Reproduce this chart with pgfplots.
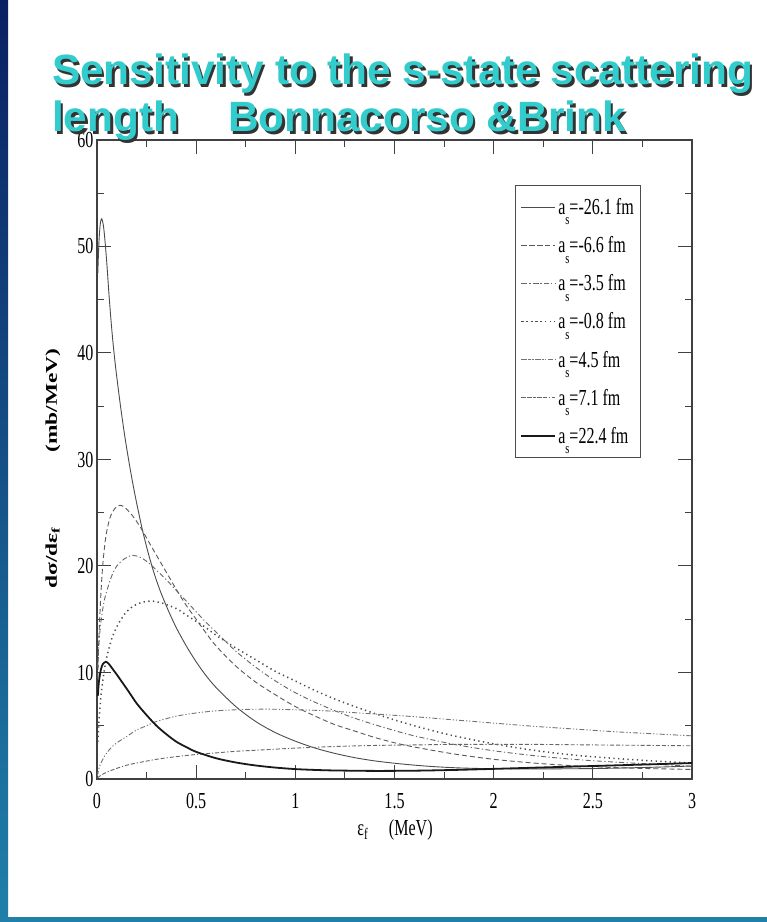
\documentclass[border=0pt]{standalone}
\usepackage{pgfplots}
\pgfplotsset{compat=1.18}
\usepackage{fontspec}
\setmainfont{Liberation Serif}
\newfontfamily\titlefont{Liberation Sans}
\definecolor{titlecyan}{RGB}{51,204,204}
\definecolor{stripnavy}{RGB}{10,32,98}
\definecolor{stripteal}{RGB}{32,128,170}
\definecolor{curvegray}{RGB}{75,75,75}
\newcommand{\sq}[1]{\scalebox{0.7}[1]{#1}}
\newcommand{\asub}[1]{\sq{a\raisebox{-0.45em}{\fontsize{15}{15}\selectfont s}=#1 fm}}
\begin{document}
\begin{tikzpicture}[x=1bp,y=1bp]
\path[use as bounding box] (0,0) rectangle (767,922);
\fill[white] (0,0) rectangle (767,922);
\shade[top color=stripnavy, bottom color=stripteal] (0,0) rectangle (8,922);
\fill[stripteal] (0,0) rectangle (767,5);
\begin{axis}[at={(97bp,143bp)}, anchor=south west, scale only axis,
  width=595bp, height=639bp,
  xmin=0, xmax=3, ymin=0, ymax=60,
  xtick={0,0.5,1,1.5,2,2.5,3}, ytick={0,10,20,30,40,50,60},
  minor x tick num=1, minor y tick num=1,
  major tick length=14bp, minor tick length=7bp,
  axis line style={draw=black!75, line width=1.2bp},
  tick style={draw=black!75, line width=1bp},
  /pgf/number format/assume math mode=true,
  tick label style={font=\fontsize{23}{23}\selectfont},
  xticklabel={\sq{\pgfmathprintnumber{\tick}}},
  yticklabel={\sq{\pgfmathprintnumber{\tick}}},
  xticklabel style={yshift=-11bp},
  xlabel={\sq{ε\textsubscript{f}\hspace{1.3em}(MeV)}},
  xlabel style={font=\fontsize{23}{23}\selectfont, at={(axis description cs:0.5008,-0.0798)}, anchor=center},
  ylabel={\scalebox{1}[0.7]{\bfseries dσ/dε\textsubscript{f}\hspace{3.2em}(mb/MeV)}},
  ylabel style={font=\fontsize{23.5}{23.5}\selectfont, at={(axis description cs:-0.074,0.486)}, anchor=center},
  legend image code/.code={\draw[#1] (0bp,0bp) -- (23bp,0bp); \path (-1bp,0bp) -- (33bp,0bp);},
  legend cell align=left,
  legend style={at={(0.7025,0.9296)}, anchor=north west, draw=black!70, line width=1bp,
    font=\fontsize{23}{23}\selectfont, inner xsep=5bp, inner ysep=11bp, row sep=16.5bp},
]
\addplot[curvegray, line width=0.9bp, smooth] coordinates {
(0.004,47.5) (0.01,50.5) (0.017,52.2) (0.024,52.6) (0.032,52.0) (0.04,50.6) (0.05,48.3)
(0.06,45.6) (0.07,43.2) (0.08,41.1) (0.09,39.3) (0.1,37.7) (0.12,34.8) (0.14,32.2)
(0.16,29.9) (0.18,27.8) (0.2,25.9) (0.23,23.3) (0.26,21.1) (0.29,19.2) (0.32,17.6)
(0.36,15.8) (0.4,14.2) (0.45,12.5) (0.5,11.0) (0.55,9.7) (0.6,8.6) (0.7,6.8) (0.8,5.4)
(0.9,4.35) (1.0,3.55) (1.1,2.9) (1.2,2.4) (1.3,2.0) (1.4,1.7) (1.5,1.48) (1.6,1.3)
(1.7,1.16) (1.8,1.06) (1.9,1.0) (2.0,0.97) (2.2,0.95) (2.5,0.98) (2.8,1.1) (3.0,1.22)};
\addlegendentry{\asub{-26.1}}
\addplot[black!65, line width=0.9bp, dash pattern=on 5bp off 3bp, smooth] coordinates {
(0.004,9.5) (0.01,13.5) (0.02,17.5) (0.03,20.3) (0.045,22.8) (0.065,24.5) (0.09,25.4)
(0.115,25.7) (0.14,25.5) (0.18,24.7) (0.22,23.6) (0.26,22.3) (0.3,21.0) (0.35,19.4)
(0.4,17.8) (0.45,16.3) (0.5,15.0) (0.55,13.7) (0.6,12.5) (0.7,10.6) (0.8,9.1) (0.9,7.9)
(1.0,6.8) (1.1,5.9) (1.2,5.1) (1.3,4.5) (1.4,3.9) (1.5,3.4) (1.6,3.0) (1.8,2.35)
(2.0,1.85) (2.2,1.5) (2.4,1.25) (2.6,1.08) (2.8,0.97) (3.0,0.9)};
\addlegendentry{\asub{-6.6}}
\addplot[black!60, line width=0.9bp, dash pattern=on 5bp off 2.5bp on 1.2bp off 2.5bp, smooth] coordinates {
(0.004,10.5) (0.01,12.8) (0.02,14.8) (0.035,16.6) (0.05,17.7) (0.075,19.1) (0.1,20.0)
(0.14,20.7) (0.18,21.0) (0.22,20.8) (0.26,20.3) (0.3,19.6) (0.35,18.7) (0.4,17.7)
(0.45,16.7) (0.5,15.7) (0.55,14.7) (0.6,13.8) (0.7,12.0) (0.8,10.5) (0.9,9.2) (1.0,8.1)
(1.1,7.2) (1.2,6.4) (1.3,5.7) (1.4,5.1) (1.5,4.55) (1.6,4.05) (1.8,3.25) (2.0,2.65)
(2.2,2.2) (2.4,1.85) (2.6,1.6) (2.8,1.4) (3.0,1.2)};
\addlegendentry{\asub{-3.5}}
\addplot[black!70, line width=1.5bp, dash pattern=on 1.3bp off 3.4bp, smooth] coordinates {
(0.004,3.5) (0.01,5.5) (0.02,7.8) (0.035,10.0) (0.05,11.5) (0.075,13.2) (0.1,14.3)
(0.14,15.5) (0.18,16.2) (0.23,16.6) (0.28,16.7) (0.33,16.5) (0.4,16.0) (0.45,15.4)
(0.5,14.8) (0.55,14.2) (0.6,13.5) (0.65,12.9) (0.7,12.3) (0.8,11.2) (0.9,10.1) (1.0,9.2)
(1.1,8.3) (1.2,7.5) (1.3,6.8) (1.4,6.15) (1.5,5.55) (1.6,5.0) (1.7,4.5) (1.8,4.05)
(2.0,3.3) (2.2,2.7) (2.4,2.25) (2.6,1.95) (2.8,1.7) (3.0,1.5)};
\addlegendentry{\asub{-0.8}}
\addplot[black!55, line width=0.9bp, dash pattern=on 5bp off 2bp on 1.2bp off 2bp on 1.2bp off 2bp, smooth] coordinates {
(0.002,0.3) (0.01,1.0) (0.02,1.5) (0.04,2.2) (0.06,2.7) (0.08,3.1) (0.1,3.4) (0.15,4.0)
(0.2,4.6) (0.25,5.0) (0.3,5.4) (0.4,5.9) (0.5,6.2) (0.6,6.4) (0.7,6.5) (0.8,6.55)
(0.9,6.55) (1.0,6.5) (1.1,6.45) (1.2,6.35) (1.4,6.1) (1.6,5.85) (1.8,5.55) (2.0,5.25)
(2.2,4.95) (2.4,4.7) (2.6,4.45) (2.8,4.25) (3.0,4.05)};
\addlegendentry{\asub{4.5}}
\addplot[black!60, line width=0.9bp, dash pattern=on 4bp off 2bp on 4bp off 2bp on 1.2bp off 2bp, smooth] coordinates {
(0.002,0.1) (0.02,0.35) (0.05,0.65) (0.1,1.0) (0.15,1.3) (0.2,1.5) (0.3,1.85) (0.4,2.1)
(0.5,2.3) (0.6,2.45) (0.7,2.6) (0.8,2.7) (1.0,2.9) (1.2,3.05) (1.4,3.15) (1.6,3.2)
(1.8,3.25) (2.0,3.25) (2.2,3.25) (2.5,3.2) (2.8,3.15) (3.0,3.12)};
\addlegendentry{\asub{7.1}}
\addplot[black!90, line width=1.8bp, smooth] coordinates {
(0.004,7.8) (0.01,9.2) (0.02,10.3) (0.03,10.8) (0.045,11.0) (0.06,10.8) (0.08,10.3)
(0.1,9.8) (0.13,9.0) (0.16,8.2) (0.2,7.1) (0.25,6.0) (0.3,5.0) (0.35,4.2) (0.4,3.5)
(0.45,3.0) (0.5,2.55) (0.6,1.95) (0.7,1.55) (0.8,1.27) (0.9,1.07) (1.0,0.93) (1.1,0.85)
(1.2,0.8) (1.4,0.76) (1.6,0.78) (1.8,0.85) (2.0,0.95) (2.2,1.06) (2.5,1.22) (2.8,1.38)
(3.0,1.5)};
\addlegendentry{\asub{22.4}}
\end{axis}
\begin{scope}[font=\titlefont\bfseries\fontsize{42.5}{42.5}\selectfont]
\node[anchor=base west, inner sep=0, text=black!80] at (54.5,834.5) {Sensitivity to the s-state scattering};
\node[anchor=base west, inner sep=0, text=titlecyan] at (52,837) {Sensitivity to the s-state scattering};
\node[anchor=base west, inner sep=0, text=black!80] at (54.5,787.5) {length};
\node[anchor=base west, inner sep=0, text=titlecyan] at (52,790) {length};
\node[anchor=base west, inner sep=0, text=black!80] at (230.5,787.5) {Bonnacorso \&Brink};
\node[anchor=base west, inner sep=0, text=titlecyan] at (228,790) {Bonnacorso \&Brink};
\end{scope}
\end{tikzpicture}
\end{document}
